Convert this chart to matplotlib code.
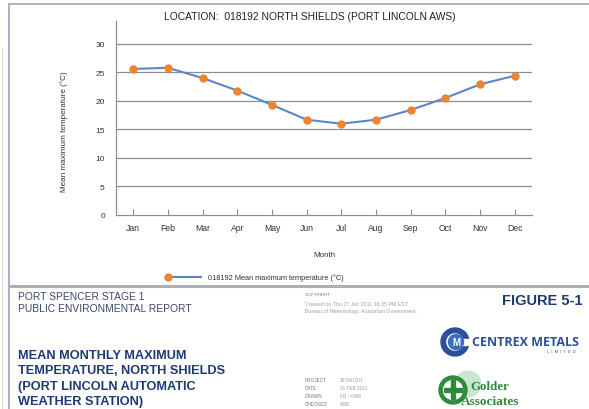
import matplotlib
matplotlib.use('Agg')
import matplotlib.pyplot as plt
from matplotlib.patches import Circle, Wedge, Rectangle
from matplotlib.lines import Line2D

W, H = 589, 410

months = ['Jan', 'Feb', 'Mar', 'Apr', 'May', 'Jun', 'Jul', 'Aug', 'Sep', 'Oct', 'Nov', 'Dec']
mean_max = [25.6, 25.8, 24.0, 21.8, 19.3, 16.7, 16.0, 16.7, 18.4, 20.5, 22.9, 24.4]
y_ticks = [0, 5, 10, 15, 20, 25, 30]

station_title = 'LOCATION:  018192 NORTH SHIELDS (PORT LINCOLN AWS)'
series_label = '018192 Mean maximum temperature (°C)'
report_lines = ['PORT SPENCER STAGE 1', 'PUBLIC ENVIRONMENTAL REPORT']
figure_title = ['MEAN MONTHLY MAXIMUM', 'TEMPERATURE, NORTH SHIELDS',
                '(PORT LINCOLN AUTOMATIC', 'WEATHER STATION)']
copyright_lines = ['Created on Thu 27 Jan 2011 16:35 PM EST',
                   'Bureau of Meteorology, Australian Government.']
block_keys = ['PROJECT', 'DATE', 'DRAWN', 'CHECKED']
block_vals = ['107661001', '01 FEB 2011', 'KB / KRM', 'AMB']

plt.rcParams['font.family'] = ['Liberation Sans', 'DejaVu Sans']

LINE_BLUE = '#5b87c4'
DOT_ORANGE = '#ee8330'
NAVY = '#1d3a72'
GREEN = '#2f8a3c'
FRAME = '#9aa6b6'


def fx(x):
    return x / W


def fy(y):
    return 1 - y / H


fig = plt.figure(figsize=(W / 100, H / 100), dpi=100)
fig.patch.set_facecolor('white')

# page frame and separator
fig.add_artist(Line2D([fx(9), fx(9)], [fy(5), fy(410)], color=FRAME, lw=1.2))
fig.add_artist(Line2D([fx(9), fx(589)], [fy(5), fy(5)], color=FRAME, lw=1.2))
fig.add_artist(Line2D([fx(9), fx(589)], [fy(287), fy(287)], color='#a9b0ba', lw=2.2))
fig.add_artist(Line2D([fx(2), fx(2)], [fy(50), fy(410)], color='#d8dadd', lw=0.8))

# chart
ax = fig.add_axes([fx(116), fy(216), (532 - 116) / W, (216 - 22) / H])
x = range(len(months))
ax.plot(x, mean_max, color=LINE_BLUE, lw=1.5, marker='o', markersize=5,
        markerfacecolor=DOT_ORANGE, markeredgecolor=DOT_ORANGE, zorder=3)
ax.set_xlim(-0.5, 11.5)
ax.set_ylim(0, 34)
ax.set_yticks(y_ticks)
ax.set_xticks(list(x))
ax.set_xticklabels(months)
for v in y_ticks[1:]:
    ax.axhline(v, color='#8f8f8f', lw=0.9, zorder=1)
for s in ['top', 'right']:
    ax.spines[s].set_visible(False)
for s in ['left', 'bottom']:
    ax.spines[s].set_color('#8f8f8f')
    ax.spines[s].set_linewidth(0.9)
ax.tick_params(axis='y', length=0, labelsize=6, pad=8, labelcolor='#333333')
ax.tick_params(axis='x', direction='in', length=4, color='#8f8f8f',
               labelsize=6.2, pad=6, labelcolor='#333333')
ax.set_ylabel('Mean maximum temperature (°C)', fontsize=5.9, color='#333333')
ax.yaxis.set_label_coords(-(116 - 68) / 416, (216 - 132) / 194)
ax.set_xlabel('Month', fontsize=5.8, color='#333333')
ax.xaxis.set_label_coords(0.5, -(252 - 216) / 194)

fig.text(fx(310), fy(17), station_title, fontsize=7.4, color='#222222', ha='center', va='center')

# legend row
fig.add_artist(Line2D([fx(167), fx(201)], [fy(278), fy(278)], color=LINE_BLUE, lw=1.5))
fig.add_artist(Line2D([fx(168)], [fy(278)], marker='o', markersize=5,
                      color=DOT_ORANGE))
fig.text(fx(208), fy(278), series_label, fontsize=5.3, color='#333333', va='center')

# footer text
for i, t in enumerate(report_lines):
    fig.text(fx(18), fy(297 + 12 * i), t, fontsize=7.4, color='#3c4a66', va='center')
for i, t in enumerate(figure_title):
    fig.text(fx(18), fy(356 + 15.3 * i), t, fontsize=9.2, color=NAVY,
             fontweight='bold', va='center')
fig.text(fx(305), fy(295), 'COPYRIGHT', fontsize=3.2, color='#777777', va='center')
for i, t in enumerate(copyright_lines):
    fig.text(fx(305), fy(305 + 6.5 * i), t, fontsize=3.8, color='#a0a0a0', va='center')
for i, (k, v) in enumerate(zip(block_keys, block_vals)):
    fig.text(fx(305), fy(381 + 8 * i), k, fontsize=3.4, color='#777777', va='center')
    fig.text(fx(340), fy(381 + 8 * i), v, fontsize=3.4, color='#a0a0a0', va='center')
fig.text(fx(583), fy(301), 'FIGURE 5-1', fontsize=10.5, color=NAVY, fontweight='bold',
         ha='right', va='center')

# Centrex logo
lax = fig.add_axes([0, 0, 1, 1], facecolor='none')
lax.set_xlim(0, W)
lax.set_ylim(H, 0)
lax.axis('off')
lax.add_patch(Wedge((455, 343), 14, 0, 360, width=4.5, color='#2b4f9a'))
lax.add_patch(Rectangle((460, 340), 12, 6, color='white'))
lax.add_patch(Circle((456, 343), 7.5, color='#3a6fc0'))
lax.text(456, 343.5, 'M', fontsize=7, color='white', fontweight='bold',
         ha='center', va='center')
lax.text(472, 343, 'CENTREX METALS', fontsize=9, color='#2b4f9a', fontweight='bold',
         va='center', family=['Open Sans', 'DejaVu Sans'])
lax.text(576, 352, 'L  I  M  I  T  E  D', fontsize=2.8, color='#2b4f9a',
         ha='right', va='center')

# Golder logo
lax.add_patch(Circle((468, 385), 13, color='#c9e6cf'))
lax.add_patch(Circle((453, 391), 14, color=GREEN))
lax.add_patch(Circle((453, 391), 9.5, color='white'))
lax.add_patch(Rectangle((444, 389.3), 18, 3.4, color=GREEN))
lax.add_patch(Rectangle((451.3, 381), 3.4, 19, color=GREEN))
lax.text(470, 387, 'Golder', fontsize=9.3, color=GREEN, fontweight='bold',
         va='center', family=['Liberation Serif', 'DejaVu Serif'])
lax.text(461, 402, 'Associates', fontsize=9.6, color=GREEN, fontweight='bold',
         va='center', family=['Liberation Serif', 'DejaVu Serif'])

fig.savefig('out.png', dpi=100, facecolor='white')
